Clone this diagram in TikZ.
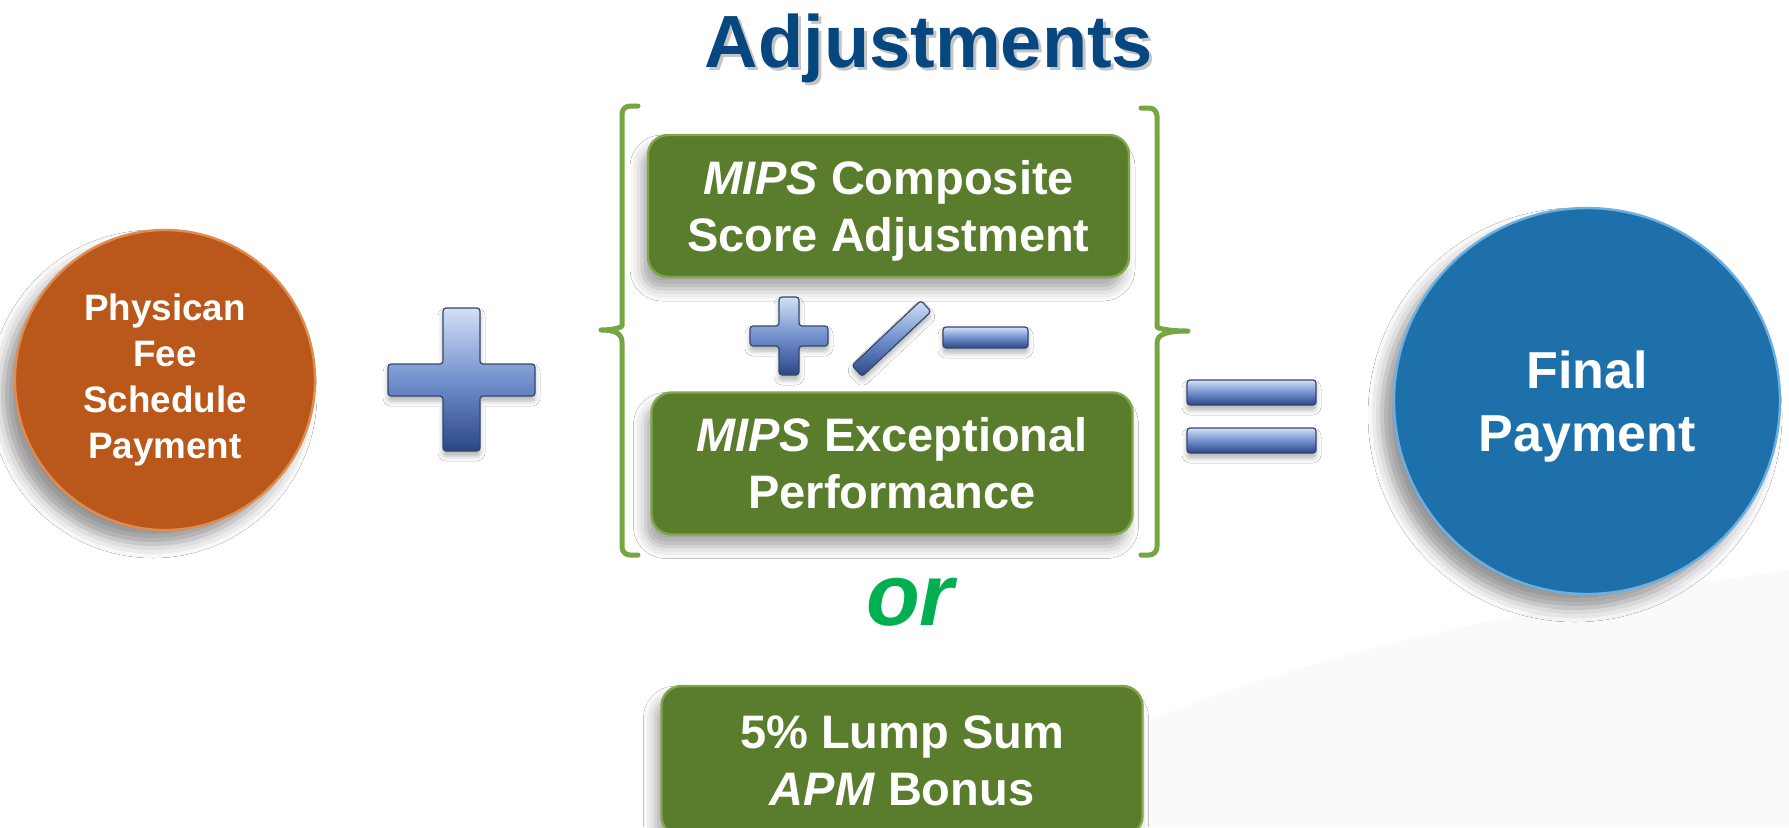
\documentclass[tikz,border=0pt]{standalone}
\usepackage{fontspec}
\setmainfont{Liberation Sans}
\usetikzlibrary{shadows.blur}
\definecolor{orangefill}{RGB}{185,88,26}
\definecolor{orangerim}{RGB}{222,140,80}
\definecolor{bluefill}{RGB}{30,112,170}
\definecolor{bluerim}{RGB}{110,175,225}
\definecolor{boxgreen}{RGB}{90,124,45}
\definecolor{boxedge}{RGB}{130,165,75}
\definecolor{brkgreen}{RGB}{118,166,66}
\definecolor{titleblue}{RGB}{6,71,128}
\definecolor{orgreen}{RGB}{0,176,80}
\definecolor{symtop}{RGB}{210,224,247}
\definecolor{symmid}{RGB}{115,145,205}
\definecolor{symbot}{RGB}{42,70,135}
\definecolor{symedge}{RGB}{55,70,105}
\definecolor{bgtint}{RGB}{250,250,253}
\begin{document}
\begin{tikzpicture}[x=0.5pt,y=-0.5pt,
  gbox/.style={rectangle, rounded corners=10pt, fill=boxgreen, draw=boxedge, line width=1.2pt,
    text=white, align=center, inner sep=0pt, minimum width=240.5pt, minimum height=71pt,
    font=\fontsize{23.5}{28.5}\selectfont\bfseries,
    blur shadow={shadow xshift=-3pt, shadow yshift=-6pt, shadow blur radius=6pt, shadow opacity=35}},
  symb/.style={draw=symedge, line width=0.6pt, top color=symtop, bottom color=symbot, middle color=symmid, rounded corners=1.5pt,
    blur shadow={shadow xshift=0pt, shadow yshift=-2.5pt, shadow blur radius=2.5pt, shadow opacity=30}},
  brk/.style={draw=brkgreen, line width=2.5pt, line cap=round, line join=round},
  disc/.style={circle, inner sep=0pt, text=white, align=center,
    blur shadow={shadow xshift=-6pt, shadow yshift=-7pt, shadow blur radius=7pt, shadow opacity=42}}
]
\useasboundingbox (0,0) rectangle (1789,827);
\fill[white] (0,0) rectangle (1789,827);
\fill[bgtint] (1150,827) -- (1150,720) .. controls (1300,660) and (1500,610) .. (1789,570) -- (1789,827) -- cycle;

% title
\node[anchor=base, text=black!45, opacity=0.5, font=\fontsize{37}{44}\selectfont\bfseries] (titleshadow) at (932,70) {Adjustments};
\node[anchor=base, text=titleblue, font=\fontsize{37}{44}\selectfont\bfseries] (title) at (929,67) {Adjustments};

% left circle
\node[disc, fill=orangefill, draw=orangerim, line width=1.2pt, minimum size=150pt,
  font=\fontsize{18.4}{23}\selectfont\bfseries] (pfs) at (165,380) {Physican\\Fee\\Schedule\\Payment};

% big plus
\draw[symb] (443,308) -- (480,308) -- (480,364) -- (535,364) -- (535,396) -- (480,396) -- (480,451)
  -- (443,451) -- (443,396) -- (388,396) -- (388,364) -- (443,364) -- cycle;

% brackets
\draw[brk] (638,106) [rounded corners=4pt] -- (622,106) -- (622,318) [sharp corners]
  .. controls (622,327) and (614,330) .. (601,330)
  .. controls (614,330) and (622,333) .. (622,342)
  [rounded corners=4pt] -- (622,555) -- (638,555);
\draw[brk] (1141,108) [rounded corners=4pt] -- (1157,108) -- (1157,319) [sharp corners]
  .. controls (1157,328) and (1167,331) .. (1188,331)
  .. controls (1167,331) and (1157,334) .. (1157,343)
  [rounded corners=4pt] -- (1157,555) -- (1141,555);

% green boxes
\node[gbox, text depth=0pt] (mcs) at (888.5,206) {\textit{MIPS} Composite\\Score Adjustment};
\node[gbox] (mep) at (892,463.5) {\textit{MIPS} Exceptional\\Performance};
\node[gbox, minimum height=75pt] (apm) at (902,761) {5\% Lump Sum\\\textit{APM} Bonus};

% +/- symbol
\draw[symb] (779,297) -- (799,297) -- (799,326) -- (828,326) -- (828,346) -- (799,346) -- (799,375)
  -- (779,375) -- (779,346) -- (750,346) -- (750,326) -- (779,326) -- cycle;
\draw[symb] (851.9,365.5) -- (862.1,376.5) -- (931.1,311.5) -- (920.9,300.5) -- cycle;
\draw[symb] (943,327) rectangle (1028,348);

% or
\node[anchor=base, text=orgreen, font=\fontsize{44}{44}\selectfont\bfseries\itshape] (or) at (910,625) {or};

% equals
\draw[symb] (1187,380) rectangle (1316,405);
\draw[symb] (1187,428) rectangle (1316,453);

% right circle
\node[disc, fill=bluefill, draw=bluerim, line width=1.2pt, minimum size=193pt, text depth=0pt,
  font=\fontsize{26}{31.5}\selectfont\bfseries] (final) at (1587,401) {Final\\Payment};
\end{tikzpicture}
\end{document}
